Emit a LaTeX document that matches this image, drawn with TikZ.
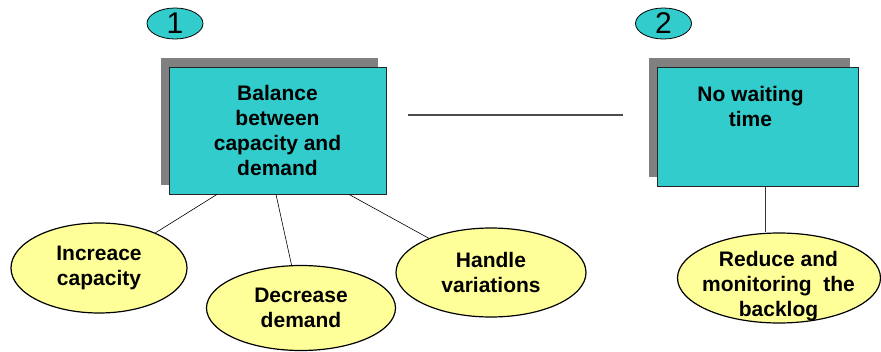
\documentclass[tikz,border=0pt]{standalone}
\usepackage{fontspec}
\setmainfont{Liberation Sans}
\usepackage{xcolor}
\usetikzlibrary{shapes.geometric,shadows}

\definecolor{boxteal}{RGB}{51,204,204}
\definecolor{ovalyellow}{RGB}{255,255,153}
\definecolor{shadowgray}{RGB}{128,128,128}

\tikzset{
  goalbox/.style={draw=black!85, line width=0.8pt, fill=boxteal, inner sep=0pt, align=center,
    font=\bfseries\fontsize{21}{25}\selectfont,
    drop shadow={shadow xshift=-8pt, shadow yshift=9pt, fill=shadowgray, opacity=1}},
  numoval/.style={ellipse, draw=black, line width=0.8pt, fill=boxteal, inner sep=0pt,
    minimum width=56pt, minimum height=31pt, font=\fontsize{30}{32}\selectfont},
  actoval/.style={ellipse, draw=black, line width=1.2pt, fill=ovalyellow, inner sep=0pt, align=center,
    font=\bfseries\fontsize{21}{25}\selectfont},
  link/.style={draw=black, line width=0.6pt}
}

\begin{document}
\begin{tikzpicture}[x=1pt,y=-1pt]
\useasboundingbox (0,0) rectangle (881,351);

% numbers
\node[numoval] (one) at (175,23.5) {1};
\node[numoval] (two) at (663.5,23.5) {2};

% the two goals
\node[goalbox, minimum width=217pt, minimum height=127pt] (balance) at (277.5,130.5)
  {Balance\\between\\capacity and\\demand};
\node[goalbox, minimum width=201pt, minimum height=119pt] (nowait) at (757.5,126.5) {};
\node[align=center, font=\bfseries\fontsize{21}{25}\selectfont, anchor=north] (nowaittext)
  at ([xshift=-7pt,yshift=-16pt]nowait.north) {No waiting\\time};

% actions
\node[actoval, minimum width=176pt, minimum height=90pt] (increace) at (99,268) {Increace\\capacity};
\node[actoval, minimum width=189pt, minimum height=85pt] (decrease) at (301,308) {Decrease\\demand};
\node[actoval, minimum width=190pt, minimum height=89pt] (handle) at (491,272.5) {Handle\\variations};
\node[actoval, minimum width=203pt, minimum height=90pt] (reduce) at (779,278) {};
\node[align=center, font=\bfseries\fontsize{21}{25}\selectfont] (reducetext) at (778.5,286)
  {Reduce and\\monitoring~ the\\backlog};

% connectors
\coordinate (gapleft) at (408,115);
\coordinate (gapright) at (623,115);
\draw[draw=black!70, line width=1.2pt] (gapleft) -- (gapright);

\draw[link] ([xshift=-60.5pt]balance.south) -- (increace);
\draw[link] ([xshift=-1.5pt]balance.south) -- (decrease);
\draw[link] ([xshift=71.5pt]balance.south) -- (handle);
\draw[link, draw=black!80] ([xshift=7.5pt]nowait.south) -- ([xshift=7.5pt]nowait.south |- reduce.north);

\end{tikzpicture}
\end{document}
